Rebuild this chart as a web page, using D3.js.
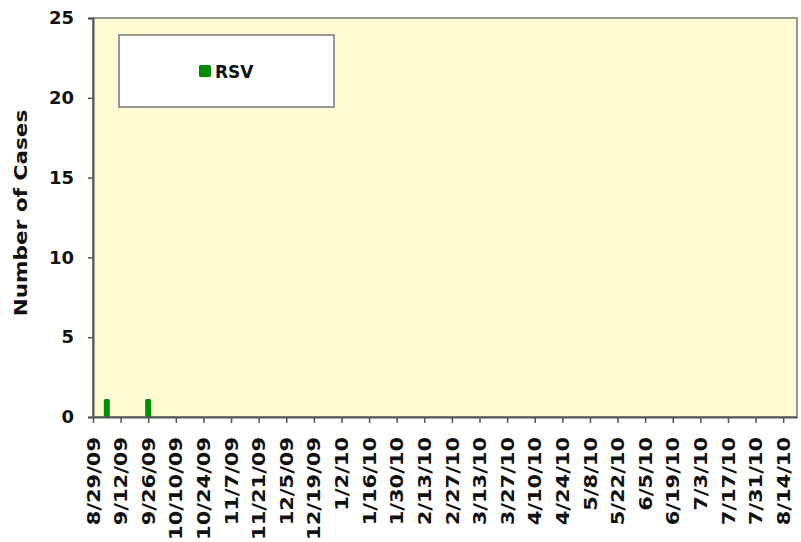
<!DOCTYPE html>
<html>
<head>
<meta charset="utf-8">
<script src="https://cdn.jsdelivr.net/npm/d3@7"></script>
<style>
  body { margin: 0; background: #fff; }
  text { font-family: "DejaVu Sans", Verdana, sans-serif; font-weight: bold; fill: #111; }
</style>
</head>
<body>
<svg id="chart" width="801" height="542"></svg>
<script>
// weeks with reported cases (week ending dates)
const weeks = ['2009-09-05', '2009-09-26'];
const cases = [1, 1];
const seriesName = 'RSV';
const tickStart = '2009-08-29';
const tickCount = 26;      // one label every two weeks, 8/29/09 .. 8/14/10
const domainEnd = '2010-08-21';
const yTicks = [0, 5, 10, 15, 20, 25];

const svg = d3.select('#chart');
const margin = {left: 93, right: 4, top: 18, bottom: 125};
const width = 801;
const height = 542;
const parse = d3.timeParse('%Y-%m-%d');
const fmt = d => `${d.getMonth() + 1}/${d.getDate()}/${String(d.getFullYear()).slice(2)}`;

let x = d3.scaleTime()
    .domain([parse(tickStart), parse(domainEnd)])
    .range([margin.left, width - margin.right]);
let y = d3.scaleLinear()
    .domain([0, 25])
    .range([height - margin.bottom, margin.top]);

// plot background
svg.append('rect')
    .attr('x', margin.left).attr('y', margin.top)
    .attr('width', width - margin.right - margin.left)
    .attr('height', y(0) - margin.top)
    .attr('fill', '#fffbd2')
    .attr('stroke', '#999')
    .attr('stroke-width', 2);

// bars
let data = weeks.map((w, i) => ({date: parse(w), value: cases[i]}));
const barW = 6;
svg.selectAll('.bar')
    .data(data)
    .enter()
        .append('path')
        .classed('bar', true)
        .attr('fill', '#008c00')
        .attr('d', d => {
            let x0 = x(d.date) - barW / 2, y0 = y(d.value) - 2, y1 = y(0), r = 1.5;
            return `M${x0},${y1}V${y0 + r}Q${x0},${y0} ${x0 + r},${y0}H${x0 + barW - r}Q${x0 + barW},${y0} ${x0 + barW},${y0 + r}V${y1}Z`;
        });

// y axis
let yAxis = svg.append('g')
    .attr('transform', `translate(${margin.left},0)`)
    .call(d3.axisLeft(y).tickValues(yTicks).tickSize(5).tickPadding(14));
yAxis.select('.domain').attr('stroke', '#555').attr('stroke-width', 2);
yAxis.selectAll('.tick line').attr('stroke', '#555').attr('stroke-width', 1.5);
yAxis.selectAll('text')
    .attr('font-size', 18)
    .style('font-family', '"DejaVu Sans", Verdana, sans-serif');

// x axis
let xTicks = d3.range(0, tickCount).map(i => d3.timeDay.offset(parse(tickStart), i * 14));
let xAxis = svg.append('g')
    .attr('transform', `translate(0,${y(0)})`)
    .call(d3.axisBottom(x).tickValues(xTicks).tickFormat(fmt).tickSize(6).tickSizeOuter(0));
xAxis.select('.domain').attr('stroke', '#555').attr('stroke-width', 2);
xAxis.selectAll('.tick line').attr('stroke', '#555').attr('stroke-width', 1.5);
xAxis.selectAll('text')
    .attr('font-size', 17.5)
    .style('font-family', '"DejaVu Sans", Verdana, sans-serif')
    .attr('text-anchor', 'end')
    .attr('dy', '0.35em')
    .attr('y', 0)
    .attr('transform', 'translate(0,20) rotate(-90) scale(1.2,1)');

// y label
svg.append('text')
    .attr('transform', 'translate(27,213) rotate(-90) scale(1.2,1)')
    .attr('text-anchor', 'middle')
    .attr('font-size', 18)
    .text('Number of Cases');

// legend
let legend = svg.append('g');
legend.append('rect')
    .attr('x', 119).attr('y', 35).attr('width', 215).attr('height', 72)
    .attr('fill', '#fff').attr('stroke', '#777').attr('stroke-width', 1.5);
legend.append('rect')
    .attr('x', 199).attr('y', 65).attr('width', 12).attr('height', 12).attr('rx', 1.5)
    .attr('fill', '#008c00');
legend.append('text')
    .attr('x', 215).attr('y', 78)
    .attr('font-size', 17)
    .text(seriesName);
</script>
</body>
</html>
